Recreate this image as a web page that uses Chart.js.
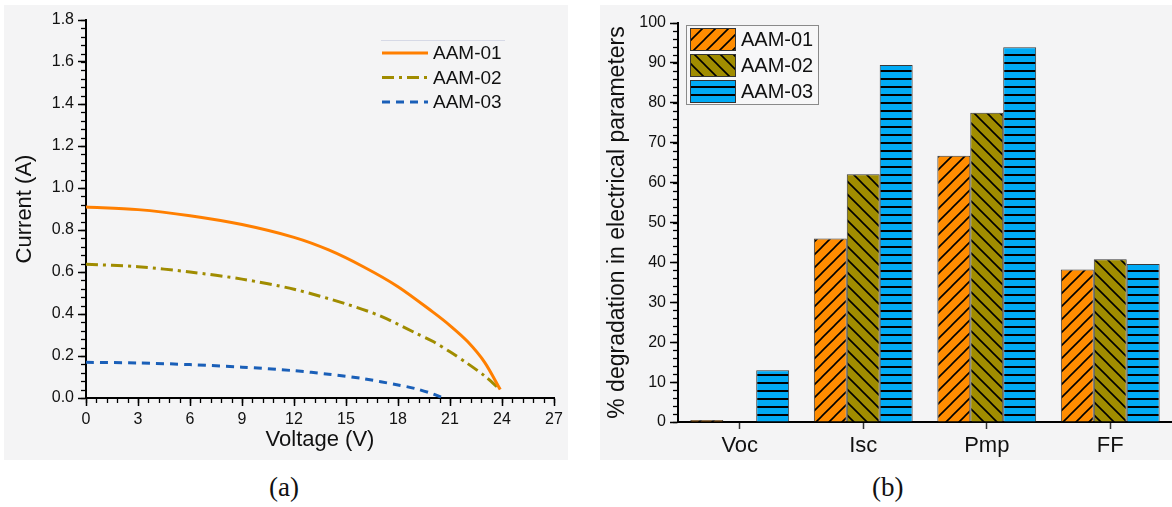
<!DOCTYPE html>
<html lang="en">
<head>
    <meta charset="UTF-8">
    <title>I-V curves and degradation</title>
    <script src="https://cdn.jsdelivr.net/npm/chart.js"></script>
    <style>
        body { margin: 0; background: #fff; width: 1172px; height: 507px; position: relative; overflow: hidden; }
        .bg { position: absolute; background: #f4f4f5; }
        canvas { position: absolute; top: 0; }
        .cap { position: absolute; top: 472px; font-family: "Liberation Serif", "Times New Roman", serif; font-size: 27px; color: #111; }
    </style>
</head>
<body>
    <div class="bg" style="left:4px; top:5px; width:564px; height:455px;"></div>
    <div class="bg" style="left:600px; top:5px; width:572px; height:455px;"></div>
    <canvas id="ivChart" width="575" height="460" style="left:0"></canvas>
    <canvas id="degChart" width="597" height="460" style="left:575px"></canvas>
    <div class="cap" style="left:269px">(a)</div>
    <div class="cap" style="left:872px">(b)</div>

    <script>
        // (a) courbes I-V
        const volt01 = [0, 3, 6, 9, 12, 14, 16, 18, 20, 21, 22, 23, 23.9];
        const curr01 = [0.91, 0.897, 0.868, 0.826, 0.765, 0.705, 0.625, 0.53, 0.41, 0.345, 0.27, 0.17, 0.04];
        const volt02 = [0, 3, 6, 9, 12, 15, 17, 19, 20, 21, 22, 23, 23.9];
        const curr02 = [0.637, 0.625, 0.6, 0.566, 0.518, 0.448, 0.39, 0.31, 0.27, 0.22, 0.165, 0.105, 0.04];
        const volt03 = [0, 3, 6, 9, 12, 14, 16, 18, 19, 20, 20.5];
        const curr03 = [0.17, 0.167, 0.159, 0.147, 0.13, 0.113, 0.092, 0.062, 0.045, 0.02, 0.003];

        // (b) % de dégradation
        const params = ['Voc', 'Isc', 'Pmp', 'FF'];
        const degr01 = [0.5, 46.0, 66.7, 38.2];
        const degr02 = [0, 62.1, 77.5, 40.8];
        const degr03 = [13.0, 89.5, 93.9, 39.6];
        const labels = ['AAM-01', 'AAM-02', 'AAM-03'];

        const toXY = (xs, ys) => xs.map((x, i) => ({ x: x, y: ys[i] }));

        // motifs hachurés
        function hatch(color, kind) {
            const c = document.createElement('canvas');
            const s = kind === 'h' ? 8 : 13;
            c.width = s; c.height = s;
            const g = c.getContext('2d');
            g.fillStyle = color;
            g.fillRect(0, 0, s, s);
            g.strokeStyle = '#000';
            g.lineWidth = kind === 'h' ? 2 : 1.6;
            g.beginPath();
            if (kind === 'h') {
                g.moveTo(0, 7); g.lineTo(s, 7);
            } else if (kind === '/') {
                g.moveTo(-1, s + 1); g.lineTo(s + 1, -1);
                g.moveTo(-1, 1); g.lineTo(1, -1);
                g.moveTo(s - 1, s + 1); g.lineTo(s + 1, s - 1);
            } else {
                g.moveTo(-1, -1); g.lineTo(s + 1, s + 1);
                g.moveTo(s - 1, -1); g.lineTo(s + 1, 1);
                g.moveTo(-1, s - 1); g.lineTo(1, s + 1);
            }
            g.stroke();
            return g.createPattern(c, 'repeat');
        }

        // petites graduations
        const minorTicks = {
            id: 'minorTicks',
            afterDraw(chart, args, opts) {
                const ctx = chart.ctx;
                ctx.save();
                ctx.strokeStyle = '#000';
                ctx.lineWidth = 1.3;
                for (const id of Object.keys(opts.steps || {})) {
                    const s = chart.scales[id];
                    const step = opts.steps[id];
                    for (let v = s.min; v <= s.max + 1e-9; v += step) {
                        const p = Math.round(s.getPixelForValue(v)) + 0.5;
                        ctx.beginPath();
                        if (s.isHorizontal()) {
                            ctx.moveTo(p, s.top); ctx.lineTo(p, s.top + 5);
                        } else {
                            ctx.moveTo(s.right - 5, p); ctx.lineTo(s.right, p);
                        }
                        ctx.stroke();
                    }
                }
                ctx.restore();
            }
        };

        const lineLegend = {
            id: 'lineLegend',
            afterDraw(chart) {
                const ctx = chart.ctx;
                ctx.save();
                ctx.strokeStyle = '#d6d9e6';
                ctx.lineWidth = 1;
                ctx.beginPath(); ctx.moveTo(381, 40.5); ctx.lineTo(505, 40.5); ctx.stroke();
                ctx.font = '19px "Liberation Sans", Arial, sans-serif';
                ctx.textBaseline = 'middle';
                chart.data.datasets.forEach((ds, i) => {
                    const y = 53 + i * 24.5;
                    ctx.strokeStyle = ds.borderColor;
                    ctx.lineWidth = 3;
                    ctx.setLineDash(ds.borderDash || []);
                    ctx.beginPath(); ctx.moveTo(382, y); ctx.lineTo(428, y); ctx.stroke();
                    ctx.setLineDash([]);
                    ctx.fillStyle = '#111';
                    ctx.fillText(ds.label, 433, y + 1);
                });
                ctx.restore();
            }
        };

        const barLegend = {
            id: 'barLegend',
            afterDraw(chart) {
                const ctx = chart.ctx;
                ctx.save();
                ctx.fillStyle = '#f7f7f8';
                ctx.fillRect(111, 25, 132, 79);
                ctx.strokeStyle = '#8a8a8a';
                ctx.lineWidth = 1;
                ctx.strokeRect(111.5, 25.5, 132, 79);
                ctx.font = '20px "Liberation Sans", Arial, sans-serif';
                ctx.textBaseline = 'middle';
                chart.data.datasets.forEach((ds, i) => {
                    const y = 28 + i * 26;
                    ctx.fillStyle = ds.backgroundColor;
                    ctx.fillRect(115, y, 45, 22);
                    ctx.strokeStyle = '#333';
                    ctx.strokeRect(115.5, y + 0.5, 45, 22);
                    ctx.fillStyle = '#111';
                    ctx.fillText(ds.label, 166, y + 12);
                });
                ctx.restore();
            }
        };

        const sans = '"Liberation Sans", Arial, sans-serif';
        const axisStyle = {
            border: { color: '#000', width: 2 },
            grid: { drawOnChartArea: false, tickLength: 8, tickColor: '#000', tickWidth: 1.5 }
        };

        new Chart(document.getElementById('ivChart'), {
            type: 'line',
            data: {
                datasets: [
                    { label: labels[0], data: toXY(volt01, curr01), borderColor: '#ff7f00', borderWidth: 3 },
                    { label: labels[1], data: toXY(volt02, curr02), borderColor: '#a08c00', borderWidth: 3, borderDash: [12, 5, 3, 5] },
                    { label: labels[2], data: toXY(volt03, curr03), borderColor: '#1a5fb8', borderWidth: 3, borderDash: [8, 6] }
                ]
            },
            options: {
                responsive: false,
                animation: false,
                layout: { padding: { top: 20, right: 21, left: 0, bottom: 0 } },
                elements: { point: { radius: 0 }, line: { tension: 0.3 } },
                plugins: { legend: { display: false }, tooltip: { enabled: false }, minorTicks: { steps: { x: 0.6, y: 0.04 } } },
                scales: {
                    x: {
                        type: 'linear', min: 0, max: 27,
                        ...axisStyle,
                        ticks: { stepSize: 3, color: '#111', font: { family: sans, size: 16 }, padding: 4, maxRotation: 0 },
                        title: { display: true, text: 'Voltage (V)', color: '#111', font: { family: sans, size: 22 }, padding: { bottom: 7 } },
                        afterFit: s => { s.height = 62; }
                    },
                    y: {
                        min: 0, max: 1.8,
                        ...axisStyle,
                        ticks: { stepSize: 0.2, color: '#111', font: { family: sans, size: 16 }, padding: 4, callback: v => v.toFixed(1) },
                        title: { display: true, text: 'Current (A)', color: '#111', font: { family: sans, size: 22 }, padding: { top: 12 } },
                        afterFit: s => { s.width = 86; }
                    }
                }
            },
            plugins: [minorTicks, lineLegend]
        });

        new Chart(document.getElementById('degChart'), {
            type: 'bar',
            data: {
                labels: params,
                datasets: [
                    { label: labels[0], data: degr01, backgroundColor: hatch('#ff8c00', '/'), borderColor: '#3a3a3a', borderWidth: 1 },
                    { label: labels[1], data: degr02, backgroundColor: hatch('#a08c00', '\\'), borderColor: '#3a3a3a', borderWidth: 1 },
                    { label: labels[2], data: degr03, backgroundColor: hatch('#00aaf5', 'h'), borderColor: '#3a3a3a', borderWidth: 1 }
                ]
            },
            options: {
                responsive: false,
                animation: false,
                layout: { padding: { top: 23, right: 0, left: 0, bottom: 0 } },
                datasets: { bar: { categoryPercentage: 0.8, barPercentage: 1.0 } },
                plugins: { legend: { display: false }, tooltip: { enabled: false }, minorTicks: { steps: { y: 2 } } },
                scales: {
                    x: {
                        border: { color: '#000', width: 2 },
                        grid: { drawOnChartArea: false, offset: false, tickLength: 7, tickColor: '#333', tickWidth: 1.5 },
                        ticks: { color: '#111', font: { family: sans, size: 22 }, padding: 4 },
                        afterFit: s => { s.height = 38; }
                    },
                    y: {
                        min: 0, max: 100,
                        ...axisStyle,
                        ticks: { stepSize: 10, color: '#111', font: { family: sans, size: 16 }, padding: 4 },
                        title: { display: true, text: '% degradation in electrical parameters', color: '#111', font: { family: sans, size: 23 }, padding: { top: 29 } },
                        afterFit: s => { s.width = 103; }
                    }
                }
            },
            plugins: [minorTicks, barLegend]
        });
    </script>
</body>
</html>
